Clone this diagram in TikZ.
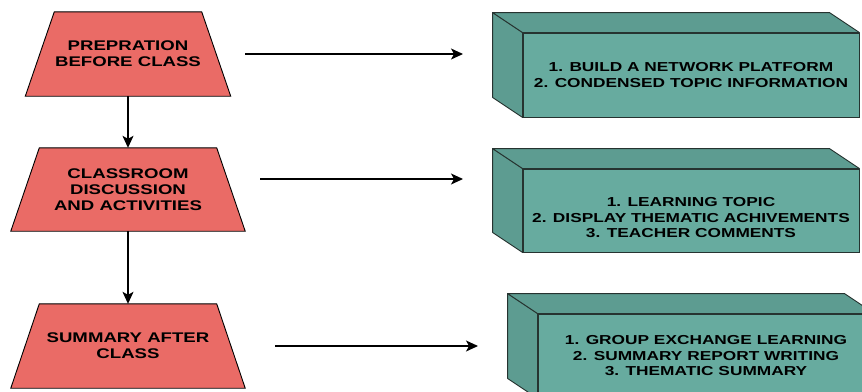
\documentclass[tikz,border=0pt]{standalone}
\usepackage{fontspec}
\newfontfamily\lbl{Liberation Sans}[FakeStretch=1.33]
\usetikzlibrary{arrows.meta,backgrounds,calc}
\definecolor{trapred}{HTML}{EA6B66}
\definecolor{boxfront}{HTML}{67AB9F}
\definecolor{boxside}{HTML}{5D9C91}
\definecolor{boxline}{HTML}{263330}
\begin{document}
\begin{tikzpicture}[x=1pt,y=-1pt,
  trapbox/.style={minimum width=#1, minimum height=84, inner sep=0pt, align=center,
    font=\lbl\bfseries\fontsize{14}{16}\selectfont},
  trapface/.style={fill=trapred, draw=black, line width=0.9pt},
  frontface/.style={minimum width=336, minimum height=#1, inner sep=0pt,
    fill=boxfront, draw=boxline, line width=0.9pt},
  sideface/.style={fill=boxside, draw=boxline, line width=0.9pt, line join=round},
  boxtext/.style={align=center, font=\lbl\bfseries\fontsize{13}{15.5}\selectfont},
  arr/.style={draw=black, line width=1.2pt, -{Stealth[length=12pt,width=11pt,inset=3pt]}}]
\useasboundingbox (0,0) rectangle (862,391);
\clip (0,0) rectangle (862,391);

% left trapezoids
\node[trapbox=205] (t1) at (128,54) {PREPRATION\\BEFORE CLASS};
\node[trapbox=234, minimum height=83] (t2) at (128,189.5) {CLASSROOM\\DISCUSSION\\AND ACTIVITIES};
\node[trapbox=234] (t3) at (128,346) {SUMMARY AFTER\\CLASS};

% right cuboids (front faces)
\node[frontface=84] (b1) at (691,75) {};
\node[frontface=83] (b2) at (691,210.5) {};
\node[frontface=84] (b3) at (706,356) {};

\node[boxtext] (b1t) at (691,75) {1. BUILD A NETWORK PLATFORM\\2. CONDENSED TOPIC INFORMATION};
\node[boxtext] (b2t) at (691,218) {1. LEARNING TOPIC\\2. DISPLAY THEMATIC ACHIVEMENTS\\3. TEACHER COMMENTS};
\node[boxtext] (b3t) at (706,356) {1. GROUP EXCHANGE LEARNING\\2. SUMMARY REPORT WRITING\\3. THEMATIC SUMMARY};

\begin{scope}[on background layer]
  \path[trapface] ($(t1.north west)+(29,0)$) -- ($(t1.north east)+(-29,0)$) -- (t1.south east) -- (t1.south west) -- cycle;
  \path[trapface] ($(t2.north west)+(28.5,0)$) -- ($(t2.north east)+(-28.5,0)$) -- (t2.south east) -- (t2.south west) -- cycle;
  \path[trapface] ($(t3.north west)+(28.5,0)$) -- ($(t3.north east)+(-28.5,0)$) -- (t3.south east) -- (t3.south west) -- cycle;
  \foreach \b in {b1,b2,b3}{
    \path[sideface] (\b.north west) -- ++(-30,-20) -- ($(\b.south west)+(-30,-20)$) -- (\b.south west) -- cycle;
    \path[sideface] (\b.north west) -- ++(-30,-20) -- ($(\b.north east)+(-30,-20)$) -- (\b.north east) -- cycle;
  }
\end{scope}

% connector end points
\coordinate (e1) at (463,54);
\coordinate (e2) at (463,179);
\coordinate (e3) at (478,346);

\draw[arr] (t1.south) -- (t2.north);
\draw[arr] (t2.south) -- (t3.north);
\draw[arr] ([xshift=14.5pt]t1.east) -- (e1);
\draw[arr] ([xshift=15pt,yshift=10.5pt]t2.east) -- (e2);
\draw[arr] ([xshift=30pt]t3.east) -- (e3);
\end{tikzpicture}
\end{document}
